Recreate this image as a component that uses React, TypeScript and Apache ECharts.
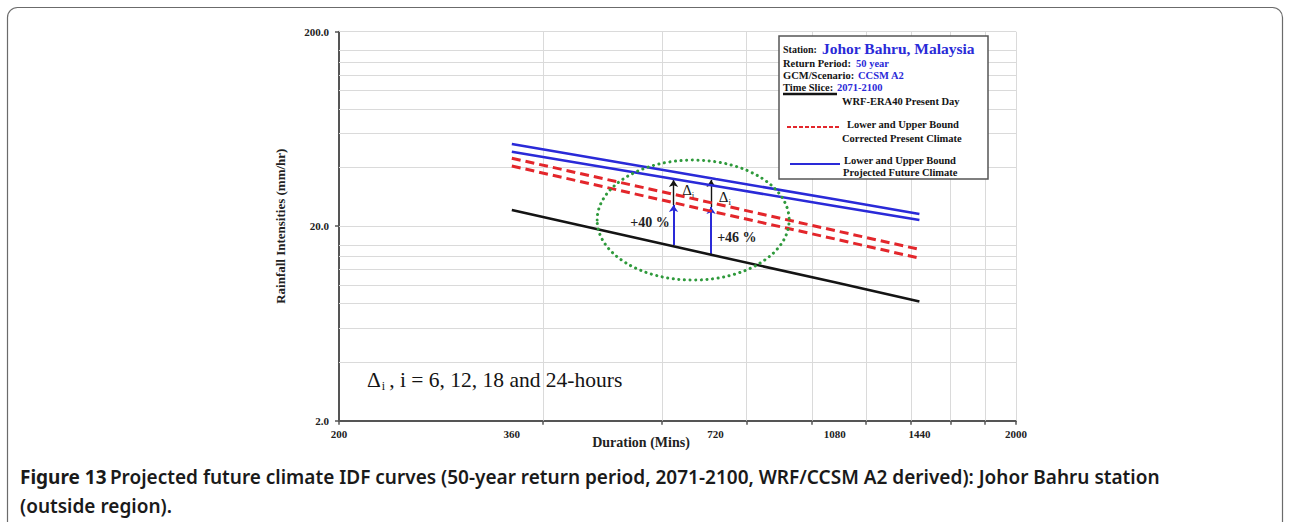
import React, { useEffect, useRef } from "react";
import * as echarts from "echarts";

// Storm durations (minutes) and 50-year rainfall intensities (mm/hr)
const durations = [360, 720, 1080, 1440];
const futureUpper = [52.9, 35.0, 27.5, 23.1];
const futureLower = [48.3, 32.2, 25.4, 21.5];
const presentUpper = [44.7, 26.1, 19.0, 15.2];
const presentLower = [40.8, 23.6, 17.2, 13.7];
const wrfEra40 = [24.2, 14.1, 10.3, 8.2];

// Axis ticks, labels and grid lines
const xLabelValues = [200, 360, 720, 1080, 1440, 2000];
const xTickValues = [200, 400, 600, 800, 1000, 1200, 1400, 1600, 1800, 2000];
const xGridValues = [400, 600, 800, 1000, 1200, 1400, 1600, 1800, 2000];
const yLabelValues = [2, 20, 200];
const yGridValues = [4, 6, 8, 10, 12, 14, 16, 20, 40, 60, 80, 100, 120, 140, 160, 200];

// Change annotations: [duration, from intensity, to intensity]
const increaseArrows = [
  [624, 16.0, 25.7],
  [709, 14.2, 25.1],
];
const deltaArrows = [
  [624, 25.7, 34.6],
  [709, 25.1, 34.6],
];
const percentLabels = ["+40 %", "+46 %"];
const percentAt = [
  [576, 21.0],
  [774, 17.4],
];
const deltaAt = [
  [656, 30.3],
  [743, 27.9],
];
const noteAt = [220, 3.2];
const ellipseCentre = [667, 21.5];

const SERIF = "'Liberation Serif', 'Times New Roman', serif";
const BLUE = "#2a2ad8";
const RED = "#e3262b";
const BLACK = "#141414";
const GREEN = "#2f9a3c";

export default function App() {
  const ref = useRef<HTMLDivElement>(null);

  useEffect(() => {
    const chart = echarts.init(ref.current!, null, { renderer: "svg" });

    const curve = (name: string, values: number[], color: string, type: any, width: number) => ({
      name,
      type: "line",
      data: durations.map((d, i) => [d, values[i]]),
      symbol: "none",
      silent: true,
      z: 5,
      emphasis: { disabled: true },
      lineStyle: { color, width, type },
    });

    const deltaRich = {
      d: { fontFamily: SERIF, fontSize: 15, color: BLACK, lineHeight: 17, verticalAlign: "top" },
      s: { fontFamily: SERIF, fontSize: 9, color: BLACK, lineHeight: 10, padding: [8, 0, 0, 0], verticalAlign: "top" },
    };

    chart.setOption({
      animation: false,
      backgroundColor: "#ffffff",
      grid: { left: 339, right: 274, top: 31.7, bottom: 101.3 },
      xAxis: {
        type: "log",
        logBase: 10,
        min: 200,
        max: 2000,
        axisLine: { show: true, lineStyle: { color: "#555", width: 2 } },
        axisTick: { show: true, customValues: xTickValues, length: 4, lineStyle: { color: "#555", width: 1.5 } },
        axisLabel: {
          customValues: xLabelValues,
          margin: 8,
          fontFamily: SERIF,
          fontWeight: "bold",
          fontSize: 11,
          color: "#222",
          formatter: (v: number) => String(Math.round(v)),
        },
        splitLine: { show: false },
        minorSplitLine: { show: false },
      },
      yAxis: {
        type: "log",
        logBase: 10,
        min: 2,
        max: 200,
        name: "Rainfall Intensities (mm/hr)",
        nameLocation: "middle",
        nameGap: 52,
        nameTextStyle: { fontFamily: SERIF, fontWeight: "bold", fontSize: 13, color: "#222" },
        axisLine: { show: true, lineStyle: { color: "#555", width: 2 } },
        axisTick: { show: true, customValues: yLabelValues, length: 4, lineStyle: { color: "#555", width: 1.5 } },
        axisLabel: {
          customValues: yLabelValues,
          margin: 10,
          fontFamily: SERIF,
          fontWeight: "bold",
          fontSize: 11,
          color: "#222",
          formatter: (v: number) => v.toFixed(1),
        },
        splitLine: { show: false },
      },
      series: [
        {
          name: "grid",
          type: "line",
          data: [],
          silent: true,
          z: 1,
          markLine: {
            silent: true,
            symbol: "none",
            label: { show: false },
            emphasis: { disabled: true },
            lineStyle: { color: "#dadada", width: 1, type: "solid" },
            data: [
              ...xGridValues.map((v) => ({ xAxis: v })),
              ...yGridValues.map((v) => ({ yAxis: v })),
            ],
          },
        },
        curve("Projected Future Climate (upper)", futureUpper, BLUE, "solid", 2.6),
        curve("Projected Future Climate (lower)", futureLower, BLUE, "solid", 2.6),
        curve("Corrected Present Climate (upper)", presentUpper, RED, [9, 5], 3),
        curve("Corrected Present Climate (lower)", presentLower, RED, [9, 5], 3),
        curve("WRF-ERA40 Present Day", wrfEra40, BLACK, "solid", 2.6),
        {
          name: "annotations",
          type: "line",
          data: [],
          silent: true,
          z: 10,
          markLine: {
            silent: true,
            symbol: ["none", "arrow"],
            symbolSize: 7,
            label: { show: false },
            emphasis: { disabled: true },
            data: [
              ...increaseArrows.map(([x, a, b]) => [
                { coord: [x, a], lineStyle: { color: BLUE, width: 2, type: "solid" } },
                { coord: [x, b] },
              ]),
              ...deltaArrows.map(([x, a, b]) => [
                { coord: [x, a], lineStyle: { color: BLACK, width: 1.4, type: "solid" } },
                { coord: [x, b] },
              ]),
            ],
          },
          markPoint: {
            silent: true,
            symbol: "circle",
            symbolSize: 0,
            emphasis: { disabled: true },
            data: [
              ...percentLabels.map((t, i) => ({
                coord: percentAt[i],
                label: {
                  show: true,
                  position: "inside",
                  formatter: t,
                  fontFamily: SERIF,
                  fontWeight: "bold",
                  fontSize: 14,
                  color: "#222",
                },
              })),
              ...deltaAt.map((c) => ({
                coord: c,
                label: {
                  show: true,
                  position: "inside",
                  formatter: "{d|Δ}{s|i}",
                  rich: deltaRich,
                },
              })),
              {
                coord: noteAt,
                label: {
                  show: true,
                  position: "right",
                  distance: 0,
                  formatter: "{d|Δ}{s|i}{t|, i = 6, 12, 18 and 24-hours}",
                  rich: {
                    d: { fontFamily: SERIF, fontSize: 21.5, color: BLACK, lineHeight: 23, verticalAlign: "top" },
                    s: { fontFamily: SERIF, fontSize: 12, color: BLACK, lineHeight: 13, padding: [11, 0, 0, 1], verticalAlign: "top" },
                    t: { fontFamily: SERIF, fontSize: 21.5, color: BLACK, lineHeight: 23, verticalAlign: "top", padding: [0, 0, 0, 4] },
                  },
                },
              },
            ],
          },
        },
      ],
    });

    const centre = chart.convertToPixel({ xAxisIndex: 0, yAxisIndex: 0 }, ellipseCentre) as number[];
    const small = (text: string, x: number, y: number, fill = BLACK, size = 10.5) => ({
      type: "text",
      silent: true,
      z: 101,
      style: { text, x, y, fill, font: `bold ${size}px ${SERIF}`, verticalAlign: "middle", align: "left" },
    });

    chart.setOption({
      graphic: [
        {
          type: "rect",
          silent: true,
          shape: { x: 7.5, y: 7.5, width: 1275, height: 560, r: 10 },
          style: { fill: "none", stroke: "#6b6b6b", lineWidth: 1.2 },
          z: -10,
        },
        {
          type: "ellipse",
          silent: true,
          z: 50,
          shape: { cx: centre[0], cy: centre[1], rx: 96, ry: 60 },
          style: { fill: "none", stroke: GREEN, lineWidth: 3, lineDash: [0.1, 5.5], lineCap: "round" },
        },
        {
          type: "text",
          silent: true,
          style: {
            text: "Duration (Mins)",
            x: 641,
            y: 442,
            align: "center",
            verticalAlign: "middle",
            font: `bold 14px ${SERIF}`,
            fill: "#222",
          },
        },
        {
          type: "rect",
          silent: true,
          z: 100,
          shape: { x: 779, y: 36, width: 209, height: 143 },
          style: { fill: "#fff", stroke: "#555", lineWidth: 1.5 },
        },
        small("Station:", 783, 49, BLACK, 10),
        small("Johor Bahru, Malaysia", 822, 48, BLUE, 15.5),
        small("Return Period:", 783, 63),
        small("50 year", 856, 63, BLUE),
        small("GCM/Scenario:", 783, 75),
        small("CCSM A2", 858, 75, BLUE),
        small("Time Slice:", 783, 87),
        small("2071-2100", 837, 87, BLUE),
        {
          type: "line",
          silent: true,
          z: 101,
          shape: { x1: 783, y1: 94, x2: 837, y2: 94 },
          style: { stroke: BLACK, lineWidth: 2.5 },
        },
        small("WRF-ERA40 Present Day", 842, 101),
        {
          type: "line",
          silent: true,
          z: 101,
          shape: { x1: 787, y1: 127, x2: 840, y2: 127 },
          style: { stroke: RED, lineWidth: 2, lineDash: [4, 2] },
        },
        small("Lower and Upper Bound", 847, 124),
        small("Corrected Present Climate", 842, 138),
        {
          type: "line",
          silent: true,
          z: 101,
          shape: { x1: 790, y1: 164, x2: 840, y2: 164 },
          style: { stroke: BLUE, lineWidth: 2 },
        },
        small("Lower and Upper Bound", 844, 160),
        small("Projected Future Climate", 843, 172),
        {
          type: "text",
          silent: true,
          style: {
            x: 20,
            y: 462,
            text: "{b|Figure 13} {n|Projected future climate IDF curves (50-year return period, 2071-2100, WRF/CCSM A2 derived): Johor Bahru station}\n{n|(outside region).}",
            rich: {
              b: { fontFamily: "'Noto Sans', sans-serif", fontWeight: 700, fontSize: 19, lineHeight: 29, fill: "#1a1a1a" },
              n: { fontFamily: "'Noto Sans', sans-serif", fontWeight: 600, fontSize: 19, lineHeight: 29, fill: "#1a1a1a" },
            },
          },
        },
      ],
    });

    return () => chart.dispose();
  }, []);

  return (
    <div
      ref={ref}
      style={{ position: "fixed", left: 0, top: 0, width: 1290, height: 522, background: "#fff" }}
    />
  );
}
